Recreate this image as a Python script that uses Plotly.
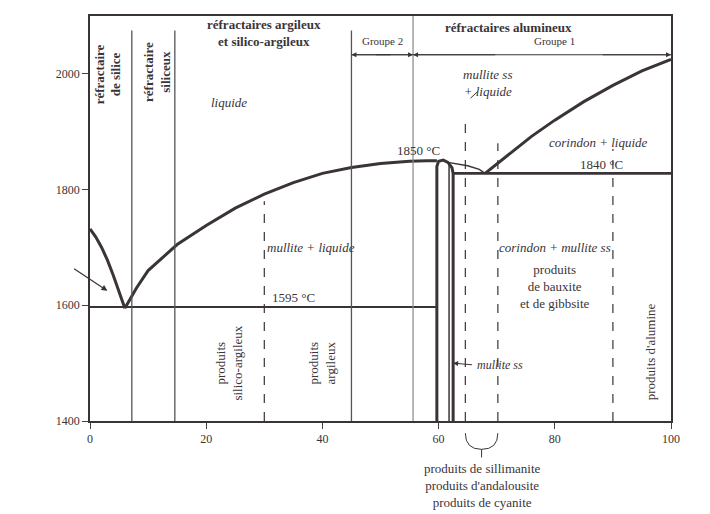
import plotly.graph_objects as go

# data
sio2_x = [0, 1, 2, 3, 4, 5, 6]
sio2_y = [1732, 1718, 1700, 1678, 1652, 1625, 1595]
liq_x = [6, 8, 10, 15, 20, 25, 30, 35, 40, 45, 50, 55, 58, 59.7]
liq_y = [1595, 1630, 1660, 1705, 1738, 1768, 1792, 1812, 1828, 1838, 1845, 1849, 1850, 1850]
dome_x = [59.7, 59.7, 60.0, 60.8, 61.6, 62.3, 62.5, 62.5]
dome_y = [1400, 1840, 1849, 1851, 1847, 1838, 1828, 1400]
top_x = [61.6, 63, 65, 67, 68]
top_y = [1847, 1845, 1841, 1835, 1828]
rliq_x = [68, 72, 76, 80, 85, 90, 95, 100]
rliq_y = [1828, 1860, 1892, 1920, 1952, 1980, 2005, 2025]
solid_v = [7.2, 14.6, 45]
dashed_v = [(30, 1400, 1780), (64.6, 1400, 1920), (70.2, 1400, 1880), (90, 1400, 1870)]

font = "Liberation Serif"
ink = "#3a3438"
fig = go.Figure()
def line(x, y, w=2.2, dash="solid", c=ink):
    fig.add_trace(go.Scatter(x=x, y=y, mode="lines", line=dict(color=c, width=w, dash=dash),
                             showlegend=False, hoverinfo="skip"))
line(sio2_x, sio2_y, 3)
line(liq_x, liq_y, 3)
line(dome_x, dome_y, 3)
line([61.8, 61.8], [1400, 1846], 1.5)
line(top_x, top_y, 1.5)
line(rliq_x, rliq_y, 3)
line([0, 59.7], [1597, 1597], 2.2)
line([62.5, 100], [1828, 1828], 2.6)
for v in solid_v:
    line([v, v], [1400, 2075], 1.3, c="#555")
line([55.6, 55.6], [1400, 2100], 1.2, c="#888")
for v, a, b in dashed_v:
    line([v, v], [a, b], 1.2, "dash")
line([45, 100], [2033, 2033], 1.0)

anns = [
    (3, 2000, "<b>réfractaire<br>de silice</b>", -90, 13, "normal"),
    (11.5, 2003, "<b>réfractaire<br>siliceux</b>", -90, 13, "normal"),
    (30, 2070, "<b>réfractaires argileux<br>et silico-argileux</b>", 0, 13, "normal"),
    (72, 2080, "<b>réfractaires alumineux</b>", 0, 13, "normal"),
    (50.3, 2056, "Groupe 2", 0, 11, "normal"),
    (80, 2056, "Groupe 1", 0, 11, "normal"),
    (24, 1950, "liquide", 0, 13, "italic"),
    (-8.5, 1690, "SiO<sub>2</sub><br>+<br>liquide", 0, 13, "italic"),
    (38, 1700, "mullite + liquide", 0, 13, "italic"),
    (68.5, 1985, "mullite ss<br>+ liquide", 0, 13, "italic"),
    (56.5, 1868, "1850 °C", 0, 13, "normal"),
    (87.5, 1882, "corindon + liquide", 0, 13, "italic"),
    (88, 1843, "1840 °C", 0, 13, "normal"),
    (80, 1700, "corindon + mullite ss", 0, 13, "italic"),
    (80, 1632, "produits<br>de bauxite<br>et de gibbsite", 0, 13, "normal"),
    (35, 1614, "1595 °C", 0, 13, "normal"),
    (24, 1500, "produits<br>silico-argileux", -90, 13, "normal"),
    (40, 1500, "produits<br>argileux", -90, 13, "normal"),
    (96.5, 1520, "produits d'alumine", -90, 13, "normal"),
    (70.5, 1497, "mullite ss", 0, 12, "italic"),
]
for x, y, t, ang, s, st in anns:
    fig.add_annotation(x=x, y=y, text=t, textangle=ang, showarrow=False,
                       font=dict(family=font, size=s, color=ink, style=st), xref="x", yref="y")
def arrow(x, y, ax, ay, head=2, w=1):
    fig.add_annotation(x=x, y=y, ax=ax, ay=ay, axref="x", ayref="y", xref="x", yref="y",
                       showarrow=True, arrowhead=head, arrowsize=1, arrowwidth=w, arrowcolor=ink, text="")
arrow(45, 2033, 52, 2033)
arrow(55.6, 2033, 49, 2033)
arrow(55.6, 2033, 70, 2033)
arrow(100, 2033, 88, 2033)
arrow(3, 1625, -3, 1665, w=1.2)
arrow(62.5, 1500, 66, 1497)
arrow(65.5, 1958, 67, 1972, head=0)
# bottom bracket
fig.add_shape(type="path", xref="x", yref="paper",
              path="M 64.6 -0.03 Q 64.6 -0.07 67.4 -0.07 L 67.4 -0.09 M 67.4 -0.07 Q 70.2 -0.07 70.2 -0.03",
              line=dict(color=ink, width=1))
fig.add_annotation(x=67.4, y=-0.095, xref="x", yref="paper", yanchor="top", showarrow=False,
                   text="produits de sillimanite<br>produits d'andalousite<br>produits de cyanite",
                   font=dict(family=font, size=13, color=ink))

fig.update_layout(width=710, height=514, margin=dict(l=82, r=47, t=8, b=101, autoexpand=False),
                  paper_bgcolor="white", plot_bgcolor="white",
                  font=dict(family=font, size=12, color=ink))
fig.update_xaxes(range=[0, 100], tickvals=[0, 20, 40, 60, 80, 100], ticks="outside", ticklen=6,
                 showgrid=False, zeroline=False, showline=True, linecolor=ink, linewidth=1.5, mirror=True)
fig.update_yaxes(range=[1400, 2100], tickvals=[1400, 1600, 1800, 2000], ticks="outside", ticklen=6,
                 showgrid=False, zeroline=False, showline=True, linecolor=ink, linewidth=1.5, mirror=True)
fig.write_html("out.html")
